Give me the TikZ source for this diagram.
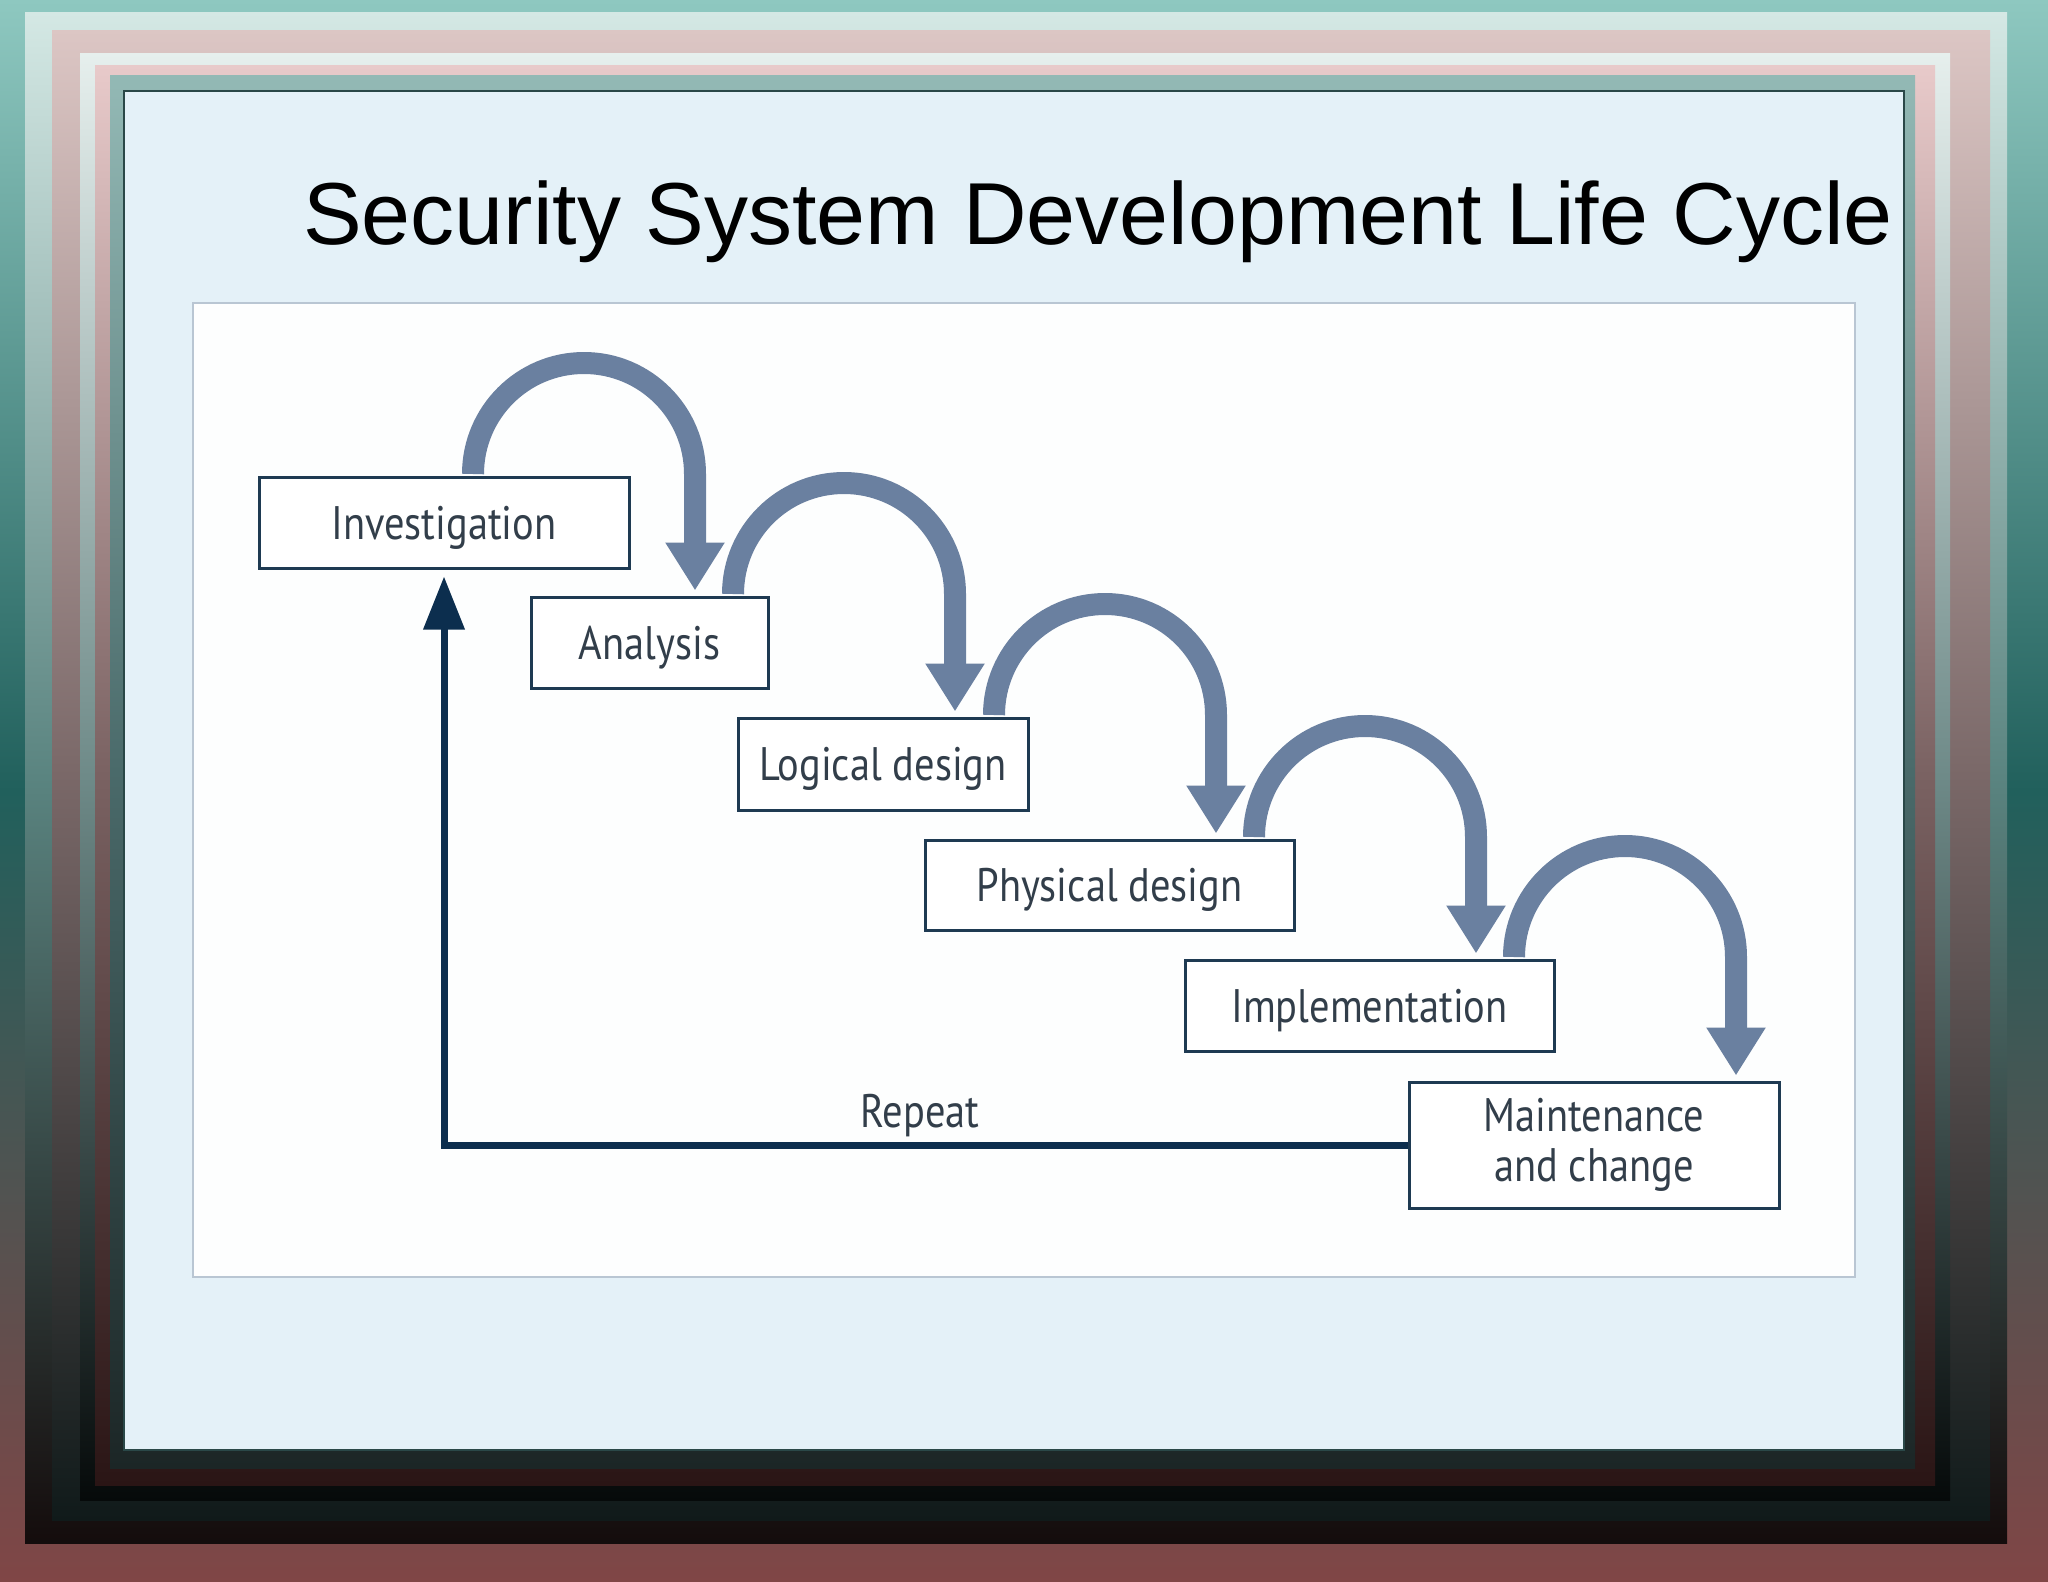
\documentclass[tikz,border=0pt]{standalone}
\usepackage{fontspec}
\setmainfont{Liberation Sans}
\newfontfamily\boxfont[FakeStretch=0.86]{PT Sans}
\usetikzlibrary{arrows.meta,calc}
\definecolor{flowblue}{HTML}{6A80A0}
\definecolor{navy}{HTML}{0C2E4E}
\definecolor{boxline}{HTML}{1E3A52}
\definecolor{labeltext}{HTML}{323E4A}
\definecolor{panelbg}{HTML}{E4F1F8}
\definecolor{panelline}{HTML}{2A4848}
\definecolor{diagbg}{HTML}{FDFEFE}
\definecolor{diagline}{HTML}{B9C6D3}
\definecolor{fAt}{HTML}{8EC8C0}\definecolor{fAm}{HTML}{21605C}\definecolor{fAb}{HTML}{804646}
\definecolor{fBt}{HTML}{D4E8E4}\definecolor{fBm}{HTML}{5A8480}\definecolor{fBb}{HTML}{140C0C}
\definecolor{fCt}{HTML}{DCC6C4}\definecolor{fCm}{HTML}{7A6868}\definecolor{fCb}{HTML}{101A1A}
\definecolor{fDt}{HTML}{E6EFED}\definecolor{fDm}{HTML}{6E8A88}\definecolor{fDb}{HTML}{060A0A}
\definecolor{fEt}{HTML}{E8CACA}\definecolor{fEm}{HTML}{7A6262}\definecolor{fEb}{HTML}{2A1515}
\definecolor{fFt}{HTML}{93B9B5}\definecolor{fFm}{HTML}{4A6A6A}\definecolor{fFb}{HTML}{1C2626}
\begin{document}
\begin{tikzpicture}[x=1pt,y=-1pt,
  stepbase/.style={draw=boxline, line width=3pt, fill=white, text=labeltext,
    font=\boxfont\fontsize{47}{50}\selectfont, inner sep=0pt},
  stepbox/.style={stepbase, text height=33pt, text depth=0pt},
  flow/.style={draw=flowblue, line width=22pt, -{Triangle[length=48pt,width=56pt]}},
  repeatline/.style={draw=navy, line width=7pt, -{Triangle[length=53pt,width=40pt]}, shorten >=7pt}
]
\useasboundingbox (0,0) rectangle (2048,1582);
% frame bands
\path[top color=fAt, bottom color=fAb, middle color=fAm] (0,0) rectangle (2048,1582);
\path[top color=fBt, bottom color=fBb, middle color=fBm] (25,12) rectangle (2007,1543);
\path[top color=fCt, bottom color=fCb, middle color=fCm] (52,30) rectangle (1990,1520);
\path[top color=fDt, bottom color=fDb, middle color=fDm] (80,53) rectangle (1950,1500);
\path[top color=fEt, bottom color=fEb, middle color=fEm] (95,65) rectangle (1935,1485);
\path[top color=fFt, bottom color=fFb, middle color=fFm] (110,75) rectangle (1915,1468);
% slide panel
\path[fill=panelbg, draw=panelline, line width=1.5pt] (124,91) rectangle (1904,1450);
% diagram area
\path[fill=diagbg, draw=diagline, line width=2.5pt] (193,303) rectangle (1855,1277);
% title
\node[anchor=base west, inner sep=0pt, font=\fontsize{88}{90}\selectfont] (title) at (303,244) {Security System Development Life Cycle};
% steps
\node[stepbox, minimum width=370pt, minimum height=91pt] (inv) at (444,522.5) {Investigation};
\node[stepbox, minimum width=237pt, minimum height=91pt] (ana) at (649.5,642.5) {Analysis};
\node[stepbox, minimum width=290pt, minimum height=92pt] (log) at (883,764) {Logical design};
\node[stepbox, minimum width=369pt, minimum height=90pt] (phy) at (1109.5,885) {Physical design};
\node[stepbox, minimum width=369pt, minimum height=91pt] (imp) at (1369.5,1005.5) {Implementation};
\node[stepbase, minimum width=370pt, minimum height=126pt, align=center] (mai) at (1594,1145) {Maintenance\\and change};
% flow arrows
\foreach \a/\b/\x in {inv/ana/473, ana/log/733, log/phy/994, phy/imp/1254, imp/mai/1514} {
  \pgfmathsetmacro{\xr}{\x+222}
  \draw[flow] ($(\x,0 |- \a.north)+(0,-1.5)$) arc[start angle=180, end angle=360, radius=111]
    -- ($(\xr,0 |- \b.north)+(0,-5)$);
}
% repeat
\draw[repeatline] (mai.west) -| (inv.south);
\node[anchor=base, inner sep=0pt, text=labeltext, font=\boxfont\fontsize{47}{50}\selectfont] (rep) at (920,1127) {Repeat};
\end{tikzpicture}
\end{document}
